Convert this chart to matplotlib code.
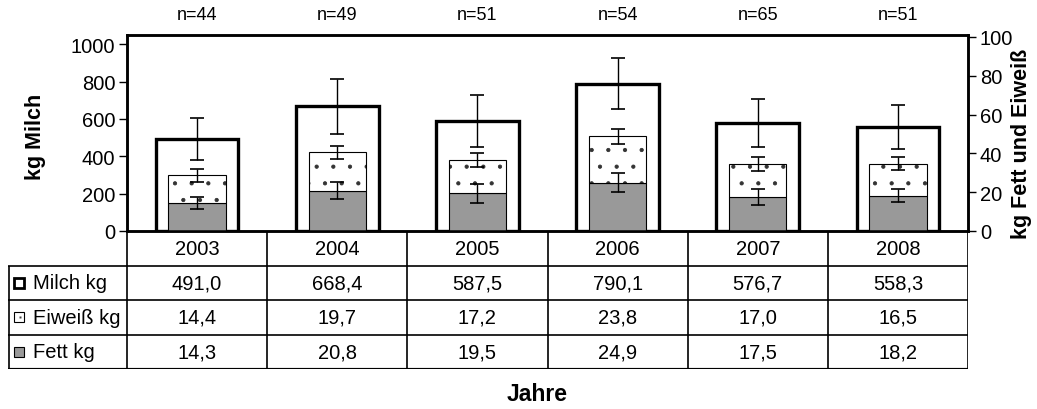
import numpy as np
import matplotlib
matplotlib.use('Agg')
import matplotlib.pyplot as plt

plt.rcParams['font.family'] = ['Liberation Sans', 'DejaVu Sans']
plt.rcParams['hatch.linewidth'] = 0.6

# Daten
jahre = ['2003', '2004', '2005', '2006', '2007', '2008']
n_werte = [44, 49, 51, 54, 65, 51]
milch = [491.0, 668.4, 587.5, 790.1, 576.7, 558.3]
eiweiss = [14.4, 19.7, 17.2, 23.8, 17.0, 16.5]
fett = [14.3, 20.8, 19.5, 24.9, 17.5, 18.2]
# Standardabweichungen (aus der Grafik geschätzt)
milch_sd = [113, 147, 140, 136, 128, 117]
eiweiss_sd = [3.3, 3.4, 3.7, 3.7, 3.5, 3.2]
fett_sd = [3.2, 4.5, 4.9, 5.0, 4.1, 3.5]

W, H = 1037, 410
fig = plt.figure(figsize=(W / 100, H / 100), dpi=100)

# Pixelgrenzen des Diagrammbereichs
px_l, px_r, px_t, px_b = 127, 968, 36, 232
ax = fig.add_axes([px_l / W, 1 - px_b / H, (px_r - px_l) / W, (px_b - px_t) / H])
ax2 = ax.twinx()

x = np.arange(len(jahre))
fett_arr = np.array(fett)
ges = fett_arr + np.array(eiweiss)

# Milch-Balken (linke Achse)
ax.bar(x, milch, width=0.59, facecolor='white', edgecolor='black', linewidth=2.4, zorder=2)
ax.errorbar(x, milch, yerr=milch_sd, fmt='none', ecolor='black', elinewidth=1,
            capsize=5, capthick=1.2, zorder=3)

# Fett und Eiweiß gestapelt (rechte Achse)
ax2.bar(x, fett, width=0.41, facecolor='#999999', edgecolor='black', linewidth=0.8, zorder=2)
ax2.bar(x, eiweiss, bottom=fett, width=0.41, facecolor='white', edgecolor='#333333',
        hatch='.', linewidth=0, zorder=2)
ax2.bar(x, eiweiss, bottom=fett, width=0.41, facecolor='none', edgecolor='black',
        linewidth=0.8, zorder=2)
ax2.errorbar(x, ges, yerr=eiweiss_sd, fmt='none', ecolor='black', elinewidth=1,
             capsize=5, capthick=1.2, zorder=3)
ax2.errorbar(x, fett, yerr=fett_sd, fmt='none', ecolor='black', elinewidth=1,
             capsize=5, capthick=1.2, zorder=3)

ax.set_xlim(-0.5, len(jahre) - 0.5)
ax.set_ylim(0, 1050)
ax.set_yticks(np.arange(0, 1001, 200))
ax2.set_ylim(0, 101)
ax2.set_yticks(np.arange(0, 101, 20))
ax.set_xticks([])
for a in (ax, ax2):
    for s in a.spines.values():
        s.set_linewidth(1.8)
    a.tick_params(axis='y', direction='out', length=5.5, width=1, labelsize=14.5, pad=3)

# n-Werte über dem Diagramm
for i, n in enumerate(n_werte):
    ax.text(i, 1.107, f'n={n}', transform=ax.get_xaxis_transform(), ha='center',
            va='center', fontsize=13)

# Datentabelle
tb_l, tb_b = 8, 370
cat_w = (px_r - px_l) / len(jahre)
tab = fig.add_axes([tb_l / W, 1 - tb_b / H, (px_r - tb_l) / W, (tb_b - px_b) / H])
x0 = -0.5 - (px_l - tb_l) / cat_w
tab.set_xlim(x0, len(jahre) - 0.5)
tab.set_ylim(4, 0)
tab.axis('off')

grenzen = np.arange(len(jahre) + 1) - 0.5
lw = 1.2
tab.vlines(grenzen, 0, 4, color='black', lw=lw)
tab.vlines([x0 + 0.004], 1, 4, color='black', lw=lw)
tab.hlines([1, 2, 3], x0, len(jahre) - 0.5, color='black', lw=lw)
tab.hlines([4], x0, len(jahre) - 0.5, color='black', lw=lw * 1.3)

for i, j in enumerate(jahre):
    tab.text(i, 0.5, j, ha='center', va='center', fontsize=14.5)

zeilen = [('Milch kg', milch), ('Eiweiß kg', eiweiss), ('Fett kg', fett)]
for r, (name, werte) in enumerate(zeilen, start=1):
    tab.text(x0 + 0.18, r + 0.5, name, ha='left', va='center', fontsize=14.5)
    for i, v in enumerate(werte):
        tab.text(i, r + 0.5, f'{v:.1f}'.replace('.', ','), ha='center', va='center',
                 fontsize=14.5)

# Legendensymbole
kx = x0 + 0.075
tab.plot([kx], [1.5], marker='s', ms=7.5, mfc='white', mec='black', mew=2)
tab.plot([kx], [2.5], marker='s', ms=7.5, mfc='white', mec='black', mew=0.8)
tab.plot([kx + 0.012], [2.5], marker='s', ms=1.5, mfc='#444444', mec='none')
tab.plot([kx], [3.5], marker='s', ms=7.5, mfc='#999999', mec='black', mew=0.8)

# Achsentitel
fig.text(36 / W, 1 - 137 / H, 'kg Milch', rotation=90, ha='center', va='center',
         fontsize=15.5, fontweight='bold')
fig.text(1022 / W, 1 - 144 / H, 'kg Fett und Eiweiß', rotation=90, ha='center',
         va='center', fontsize=15.5, fontweight='bold')
fig.text(537 / W, 1 - 395 / H, 'Jahre', ha='center', va='center', fontsize=16.5,
         fontweight='bold')

fig.savefig('out.png', dpi=100)
